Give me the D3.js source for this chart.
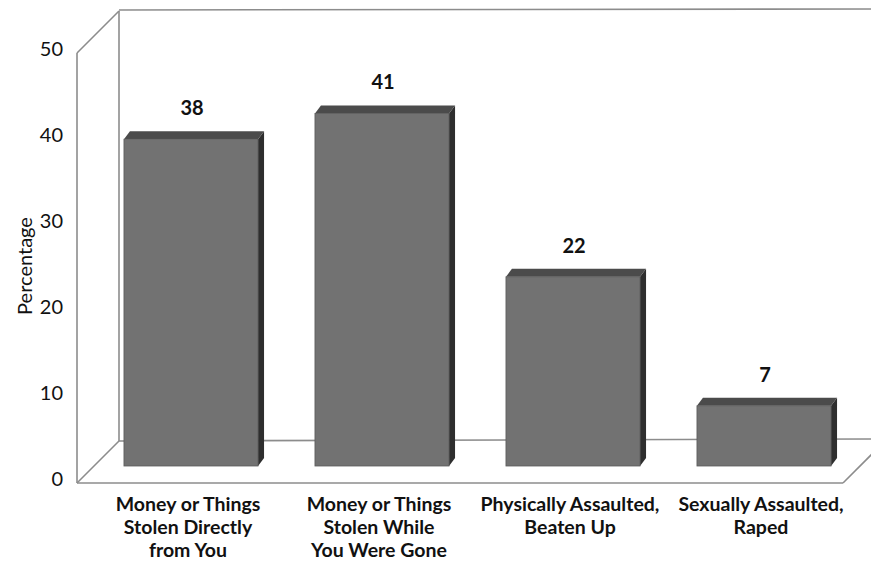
<!DOCTYPE html>
<html>
<head>
<meta charset="utf-8">
<script src="https://cdn.jsdelivr.net/npm/d3@7"></script>
<style>
  html, body { margin: 0; padding: 0; background: #fff; }
  svg { display: block; }
</style>
</head>
<body>
<svg id="chart" width="871" height="562"></svg>
<script>
const categories = [
  ["Money or Things", "Stolen Directly", "from You"],
  ["Money or Things", "Stolen While", "You Were Gone"],
  ["Physically Assaulted,", "Beaten Up"],
  ["Sexually Assaulted,", "Raped"]
];
const values = [38, 41, 22, 7];
const yTicks = [0, 10, 20, 30, 40, 50];
const yLabel = "Percentage";

const svg = d3.select("#chart");
const W = 871, H = 562;
const FONT = "Lato, 'Open Sans', 'DejaVu Sans', sans-serif";

// depth offsets
const depthX = 42, depthY = -42;   // wall/floor depth
const barDX = 6, barDY = -8;       // bar block depth

const yFront = d3.scaleLinear().domain([0, 50]).range([483, 53]);
const yBack = d3.scaleLinear().domain([0, 50]).range([483 + depthY, 53 + depthY]);
const yBar = d3.scaleLinear().domain([0, 50]).range([466, 466 - 430]);

const x = d3.scaleBand()
  .domain(d3.range(values.length))
  .range([95.5, 859.5])
  .paddingInner(0.298)
  .paddingOuter(0.149);

const x0 = 77;
const xFloorEnd = 843;
const lineColor = "#8c8c8c";

const g = svg.append("g");

// walls & floor
const frame = g.append("g").attr("fill", "none").attr("stroke", lineColor).attr("stroke-width", 1.6);
frame.append("line").attr("x1", x0).attr("x2", x0).attr("y1", yFront(0)).attr("y2", yFront(50));
frame.append("line").attr("x1", x0).attr("y1", yFront(50)).attr("x2", x0 + depthX).attr("y2", yBack(50));
frame.append("line").attr("x1", x0 + depthX).attr("y1", yBack(50) - 1).attr("x2", W).attr("y2", yBack(50) - 2);
frame.append("line").attr("x1", x0 + depthX).attr("x2", x0 + depthX).attr("y1", yBack(50)).attr("y2", yBack(0));
frame.append("line").attr("x1", x0 + depthX).attr("y1", yBack(0)).attr("x2", W).attr("y2", yBack(0) - 2);
frame.append("line").attr("x1", x0).attr("y1", yFront(0)).attr("x2", xFloorEnd).attr("y2", yFront(0));
frame.append("line").attr("x1", x0).attr("y1", yFront(0)).attr("x2", x0 + depthX).attr("y2", yBack(0));
frame.append("line").attr("x1", xFloorEnd).attr("y1", yFront(0)).attr("x2", xFloorEnd + depthX).attr("y2", yBack(0));

// y tick labels
g.append("g").selectAll("text").data(yTicks).join("text")
  .attr("x", 63)
  .attr("y", d => yFront(d) - 5)
  .attr("text-anchor", "end")
  .attr("dominant-baseline", "central")
  .attr("font-family", FONT)
  .attr("font-size", 20)
  .attr("fill", "#111")
  .text(d => d);

// y axis title
g.append("text")
  .attr("transform", `translate(24, ${yFront(25) - 2}) rotate(-90)`)
  .attr("text-anchor", "middle")
  .attr("dominant-baseline", "central")
  .attr("font-family", FONT)
  .attr("font-size", 20)
  .attr("fill", "#111")
  .text(yLabel);

// bars
const bars = g.append("g").selectAll("g").data(values).join("g");
const bw = x.bandwidth();
bars.append("path")
  .attr("fill", "#2e2e2e")
  .attr("d", (d, i) => {
    const xr = x(i) + bw, yt = yBar(d), yb = yBar(0);
    return `M${xr},${yt} L${xr + barDX},${yt + barDY} L${xr + barDX},${yb + barDY} L${xr},${yb} Z`;
  });
bars.append("path")
  .attr("fill", "#4b4b4b")
  .attr("d", (d, i) => {
    const xl = x(i), xr = x(i) + bw, yt = yBar(d);
    return `M${xl},${yt} L${xl + barDX},${yt + barDY} L${xr + barDX},${yt + barDY} L${xr},${yt} Z`;
  });
bars.append("rect")
  .attr("x", (d, i) => x(i))
  .attr("y", d => yBar(d))
  .attr("width", bw)
  .attr("height", d => yBar(0) - yBar(d))
  .attr("fill", "#727272")
  .attr("stroke", "#5a5a5a")
  .attr("stroke-width", 0.8);

// value labels
g.append("g").selectAll("text").data(values).join("text")
  .attr("x", (d, i) => x(i) + bw / 2 + 1)
  .attr("y", d => yBar(d) - 32)
  .attr("text-anchor", "middle")
  .attr("dominant-baseline", "central")
  .attr("font-family", FONT)
  .attr("font-weight", "bold")
  .attr("font-size", 20)
  .attr("fill", "#111")
  .text(d => d);

// category labels
const cat = g.append("g").selectAll("text").data(categories).join("text")
  .attr("text-anchor", "middle")
  .attr("font-family", FONT)
  .attr("font-weight", "bold")
  .attr("font-size", 19.5)
  .attr("fill", "#111");
cat.selectAll("tspan").data((d, i) => d.map(t => ({ t, i }))).join("tspan")
  .attr("x", d => x(d.i) + bw / 2 - 3)
  .attr("y", (d, j) => 511 + j * 23)
  .text(d => d.t);
</script>
</body>
</html>
